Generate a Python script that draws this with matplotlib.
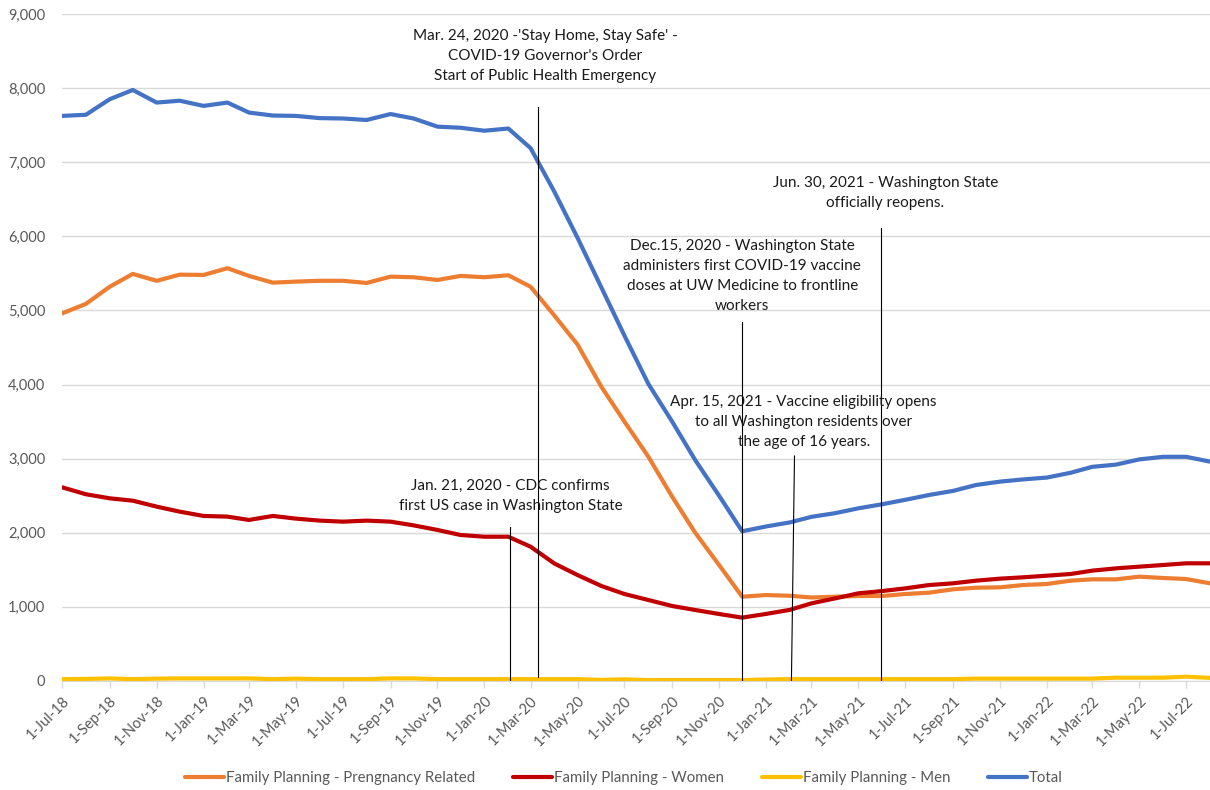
import datetime as dt
import pandas as pd
import matplotlib
matplotlib.use('Agg')
import matplotlib.pyplot as plt
import matplotlib.dates as mdates
from matplotlib.ticker import FuncFormatter, MultipleLocator

# monthly data, Jul 2018 - Aug 2022
months = pd.date_range('2018-07-01', '2022-08-01', freq='MS')

total = [7625, 7640, 7850, 7975, 7805, 7830, 7760, 7805, 7670, 7630,
         7625, 7595, 7590, 7570, 7650, 7590, 7480, 7465, 7425, 7455,
         7190, 6600, 5980, 5310, 4660, 4010, 3500, 2980, 2500, 2020,
         2085, 2140, 2215, 2265, 2330, 2385, 2445, 2510, 2565, 2645,
         2690, 2720, 2745, 2810, 2890, 2920, 2990, 3025, 3025, 2960]
pregnancy = [4960, 5088, 5320, 5493, 5400, 5483, 5479, 5570, 5466, 5375,
             5389, 5400, 5400, 5371, 5456, 5448, 5411, 5466, 5448, 5475,
             5320, 4930, 4540, 3970, 3500, 3027, 2487, 2000, 1565, 1137,
             1160, 1150, 1127, 1137, 1147, 1147, 1174, 1192, 1237, 1259,
             1264, 1295, 1309, 1354, 1372, 1372, 1408, 1390, 1376, 1318]
women = [2614, 2520, 2465, 2433, 2353, 2285, 2227, 2218, 2173, 2227,
         2191, 2164, 2150, 2164, 2150, 2100, 2038, 1970, 1947, 1947,
         1812, 1585, 1430, 1282, 1174, 1093, 1012, 958, 904, 855,
         905, 960, 1048, 1115, 1183, 1214, 1250, 1295, 1318, 1354,
         1381, 1399, 1421, 1444, 1489, 1520, 1543, 1565, 1588, 1588]
men = [25, 28, 35, 25, 32, 35, 35, 35, 35, 25,
       32, 25, 25, 25, 35, 35, 25, 25, 25, 25,
       25, 25, 25, 15, 22, 12, 12, 12, 12, 12,
       20, 25, 25, 25, 25, 25, 25, 25, 25, 32,
       32, 32, 32, 32, 32, 45, 45, 45, 58, 42]

series_names = ['Family Planning - Prengnancy Related', 'Family Planning - Women',
                'Family Planning - Men', 'Total']
series_colors = ['#ED7D31', '#C00000', '#FFC000', '#4472C4']

# event marker lines: (x at top, x at bottom, top value, bottom value)
event_lines = [
    (dt.date(2020, 2, 3), dt.date(2020, 2, 3), 2078, 0),
    (dt.date(2020, 3, 11), dt.date(2020, 3, 11), 7746, 54),
    (dt.date(2020, 12, 1), dt.date(2020, 12, 1), 4845, 0),
    (dt.date(2021, 2, 7), dt.date(2021, 2, 3), 3036, 0),
    (dt.date(2021, 5, 30), dt.date(2021, 5, 30), 6113, 0),
]
event_texts = [
    (dt.date(2020, 3, 20), 8435, "Mar. 24, 2020 -'Stay Home, Stay Safe' -\nCOVID-19 Governor's Order\nStart of Public Health Emergency"),
    (dt.date(2021, 6, 5), 6579, "Jun. 30, 2021 - Washington State\nofficially reopens."),
    (dt.date(2020, 12, 1), 5466, "Dec.15, 2020 - Washington State\nadministers first COVID-19 vaccine\ndoses at UW Medicine to frontline\nworkers"),
    (dt.date(2021, 2, 19), 3489, "Apr. 15, 2021 - Vaccine eligibility opens\nto all Washington residents over\nthe age of 16 years."),
    (dt.date(2020, 2, 4), 2501, "Jan. 21, 2020 - CDC confirms\nfirst US case in Washington State"),
]

plt.rcParams['font.family'] = ['Lato', 'DejaVu Sans']

fig = plt.figure(figsize=(12.1, 7.9), dpi=100)
ax = fig.add_axes([62 / 1210, 109 / 790, 1148 / 1210, 667 / 790])

for vals, name, col in zip([pregnancy, women, men, total], series_names, series_colors):
    ax.plot(months, vals, color=col, lw=3, label=name, solid_capstyle='round', zorder=3)

for xt, xb, yt, yb in event_lines:
    ax.plot([xt, xb], [yt, yb], color='black', lw=0.8, zorder=4)

for x, y, s in event_texts:
    ax.text(x, y, s, ha='center', va='center', fontsize=11, color='#1a1a1a',
            linespacing=1.55, zorder=5)

ax.set_xlim(dt.date(2018, 7, 1), dt.date(2022, 8, 1))
ax.set_ylim(0, 9000)
ax.yaxis.set_major_locator(MultipleLocator(1000))
ax.yaxis.set_major_formatter(FuncFormatter(lambda v, p: f'{int(v):,}'))
ax.grid(axis='y', color='#D9D9D9', lw=1)
ax.set_axisbelow(True)

ax.xaxis.set_major_locator(mdates.MonthLocator(bymonth=[1, 3, 5, 7, 9, 11]))
ax.xaxis.set_major_formatter(mdates.DateFormatter('1-%b-%y'))
for lab in ax.get_xticklabels():
    lab.set_rotation(45)
    lab.set_ha('right')
    lab.set_rotation_mode('anchor')

for sp in ['top', 'right', 'left']:
    ax.spines[sp].set_visible(False)
ax.spines['bottom'].set_color('#D9D9D9')
ax.tick_params(axis='x', colors='#D9D9D9', length=5, width=1, labelcolor='#595959',
               labelsize=10.5, pad=4)
ax.tick_params(axis='y', length=0, labelcolor='#595959', labelsize=10.5, pad=12)

fig.legend(loc='center', bbox_to_anchor=(624 / 1210, 12 / 790), ncol=4, frameon=False,
           fontsize=10.8, handlelength=2.6, columnspacing=2.5, labelcolor='#595959',
           handletextpad=0.15)

fig.savefig('out.png', dpi=100)
